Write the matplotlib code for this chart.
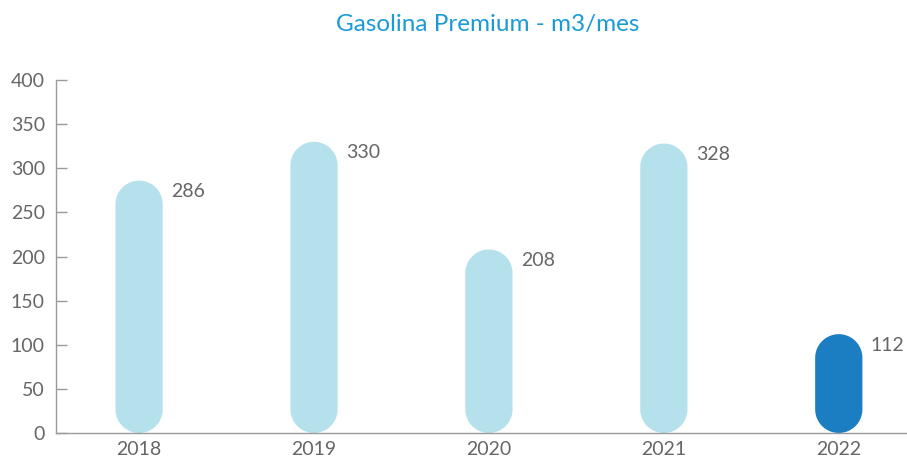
import matplotlib
matplotlib.use('agg')
import numpy as np
import matplotlib.pyplot as plt
from matplotlib.patches import Polygon

years = ['2018', '2019', '2020', '2021', '2022']
values = [286, 330, 208, 328, 112]
colors = ['#b5e1ec', '#b5e1ec', '#b5e1ec', '#b5e1ec', '#1b7dc2']
yticks = [0, 50, 100, 150, 200, 250, 300, 350, 400]

plt.rcParams['font.family'] = ['Lato', 'DejaVu Sans']
grey = '#666666'

fig = plt.figure(figsize=(9.07, 4.62), dpi=100)
ax = fig.add_axes([56 / 907, 29 / 462, 851 / 907, 353 / 462])
ax.set_xlim(-0.475, 4.39)
ax.set_ylim(0, 400)

bw = 0.27
# y units per x unit on screen, so the ends come out as half circles
p0 = ax.transData.transform((0, 0))
p1 = ax.transData.transform((1, 1))
aspect = (p1[0] - p0[0]) / (p1[1] - p0[1])
rx = bw / 2
ry = rx * aspect
t = np.linspace(0, np.pi, 40)

for i, (v, c) in enumerate(zip(values, colors)):
    top = np.column_stack([i + rx * np.cos(t), v - ry + ry * np.sin(t)])
    bot = np.column_stack([i - rx * np.cos(t), ry - ry * np.sin(t)])
    ax.add_patch(Polygon(np.vstack([top, bot]), closed=True, fc=c, ec='none'))
    ax.annotate(str(v), (i + bw / 2, v), xytext=(6, -8), textcoords='offset points',
                ha='left', va='center', fontsize=14, color=grey)

ax.set_xticks(range(len(years)))
ax.set_xticklabels(years)
ax.set_yticks(yticks)
ax.tick_params(axis='x', length=0, pad=6, labelsize=14, labelcolor=grey)
ax.tick_params(axis='y', direction='in', length=8, color='#9a9a9a', width=1,
               pad=8, labelsize=14, labelcolor=grey)

for s in ['top', 'right']:
    ax.spines[s].set_visible(False)
for s in ['left', 'bottom']:
    ax.spines[s].set_color('#9a9a9a')
    ax.spines[s].set_linewidth(1)

fig.text(488 / 907, 1 - 24 / 462, 'Gasolina Premium - m3/mes', ha='center', va='center',
         fontsize=17.5, color='#1a9ad6')

fig.savefig('out.png', dpi=100)
